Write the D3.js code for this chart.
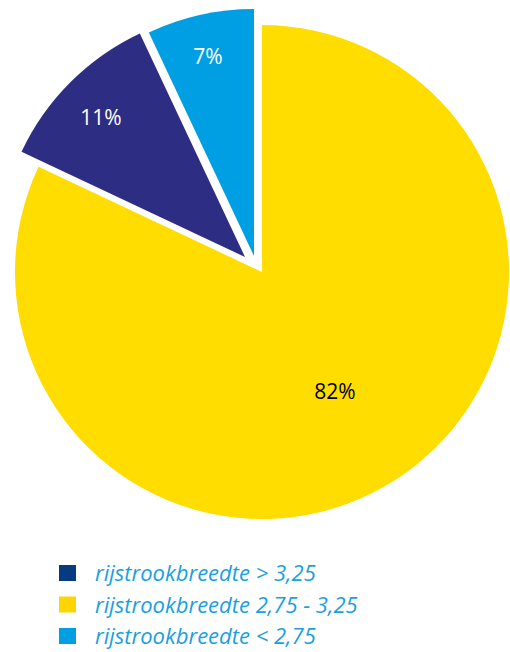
<!DOCTYPE html>
<html><head><meta charset="utf-8">
<script src="https://cdn.jsdelivr.net/npm/d3@7"></script>
<style>body{margin:0;background:#fff}svg{display:block}</style>
</head><body>
<svg id="chart" width="510" height="652"></svg>
<script>
const categories = ["rijstrookbreedte 2,75 - 3,25", "rijstrookbreedte > 3,25", "rijstrookbreedte < 2,75"];
const values = [82, 11, 7];
const labels = ["82%", "11%", "7%"];
const sliceColors = ["#FFDD00", "#2E2D84", "#009FE3"];
const legendOrder = ["rijstrookbreedte > 3,25", "rijstrookbreedte 2,75 - 3,25", "rijstrookbreedte < 2,75"];
const legendColors = ["#063A82", "#FFD500", "#009FE3"];

const svg = d3.select("#chart");
const cx = 262, cy = 272, R = 247;
const offsets = [[0,0],[-17,-15],[-8,-16]];
const labelPos = [[335,391],[101,117],[208,56]];
const labelFill = ["#000","#fff","#fff"];

const pie = d3.pie().sort(null).value(d => d)(values);
const arc = d3.arc().innerRadius(0).outerRadius(R);

const g = svg.append("g").attr("transform", `translate(${cx},${cy})`);
g.selectAll("path").data(pie).join("path")
  .attr("d", arc)
  .attr("fill", (d,i) => sliceColors[i])
  .attr("transform", (d,i) => `translate(${offsets[i][0]},${offsets[i][1]})`);

svg.selectAll("text.lbl").data(pie).join("text")
  .attr("class","lbl")
  .attr("x", (d,i) => labelPos[i][0])
  .attr("y", (d,i) => labelPos[i][1])
  .attr("text-anchor","middle").attr("dominant-baseline","central")
  .attr("font-family","'Open Sans', sans-serif").attr("font-size", 21)
  .attr("fill",(d,i)=>labelFill[i])
  .text((d,i)=>labels[i]);

const lg = svg.append("g");
const rows = lg.selectAll("g").data(legendOrder).join("g")
  .attr("transform",(d,i)=>`translate(59,${565 + i*31.5})`);
rows.append("rect").attr("width",17).attr("height",16).attr("fill",(d,i)=>legendColors[i]);
rows.append("text").attr("x",36).attr("y",16)
  .attr("font-family","'Open Sans', sans-serif").attr("font-style","italic")
  .attr("font-size",22).attr("fill","#1A9FE0").text(d=>d);
</script>
</body></html>
